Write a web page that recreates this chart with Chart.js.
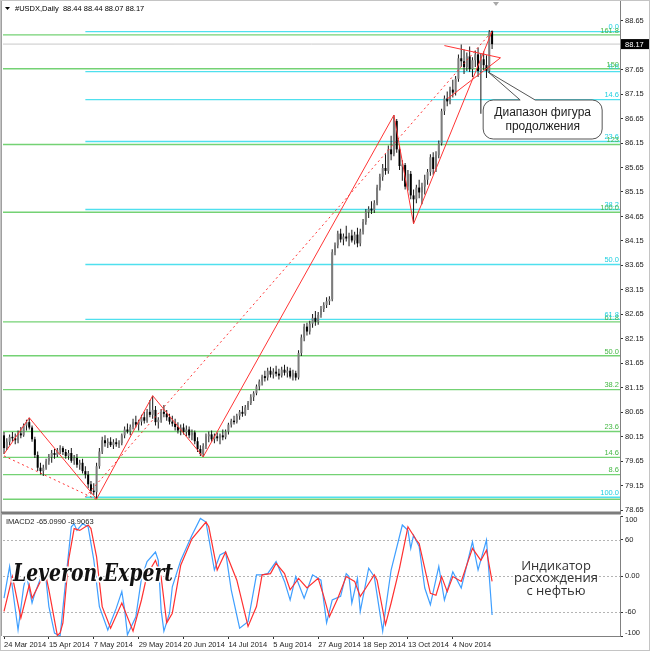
<!DOCTYPE html>
<html><head><meta charset="utf-8">
<script src="https://cdn.jsdelivr.net/npm/chart.js@4.4.1/dist/chart.umd.min.js"></script>
<style>
html,body{margin:0;padding:0;background:#fff;}
#wrap{position:relative;width:650px;height:651px;overflow:hidden;background:#fff;}
#c1{position:absolute;left:0;top:0;}
#c2{position:absolute;left:0;top:513px;}
#frame{position:absolute;left:0;top:0;width:650px;height:651px;box-sizing:border-box;border:1px solid #c4c4c4;pointer-events:none;}
</style></head><body>
<div id="wrap"><canvas id="c1" width="650" height="513"></canvas><canvas id="c2" width="650" height="138"></canvas><div id="frame"></div></div>
<script>
// ---------------- DATA ----------------
const symbolTitle = '#USDX,Daily';
const opens = [80.18,79.92,80.05,80.15,80.12,80.08,80.22,80.18,80.38,80.45,80.34,80.10,79.78,79.52,79.45,79.52,79.65,79.74,79.82,79.78,
79.88,79.92,79.84,79.76,79.82,79.66,79.72,79.58,79.62,79.45,79.38,79.18,79.05,79.02,79.55,79.85,80.08,80.02,80.05,79.98,
80.04,80.00,80.02,80.18,80.30,80.26,80.35,80.45,80.40,80.46,80.55,80.48,80.66,80.60,80.70,80.45,80.50,80.66,80.62,80.55,
80.46,80.42,80.35,80.28,80.34,80.25,80.30,80.18,80.24,80.06,79.90,79.80,79.96,80.16,80.20,80.10,80.16,80.12,80.18,80.14,
80.26,80.40,80.48,80.45,80.58,80.66,80.62,80.75,80.84,80.96,81.04,81.18,81.28,81.38,81.36,81.50,81.42,81.48,81.44,81.40,
81.52,81.46,81.50,81.38,81.45,81.36,81.86,82.18,82.40,82.30,82.46,82.58,82.50,82.64,82.76,82.84,82.92,82.96,83.92,84.06,
84.30,84.18,84.24,84.20,84.26,84.16,84.28,84.10,84.34,84.54,84.74,84.80,84.78,84.92,85.24,85.46,85.64,85.58,86.02,85.92,
86.60,86.02,85.68,85.70,85.26,85.52,85.08,85.00,85.24,85.14,85.26,85.40,85.56,85.86,85.62,85.90,86.14,86.80,87.06,87.00,
87.24,87.18,87.46,87.88,87.82,87.70,87.92,87.66,87.84,87.96,87.62,87.86,87.74,87.62,88.44];
const highs = [80.25,80.12,80.20,80.25,80.22,80.28,80.35,80.42,80.50,80.54,80.38,80.15,79.85,79.62,79.58,79.70,79.80,79.88,79.90,79.92,
79.98,79.96,79.90,79.88,79.92,79.78,79.80,79.68,79.70,79.55,79.45,79.25,79.20,79.62,79.92,80.15,80.18,80.12,80.14,80.10,
80.12,80.08,80.22,80.36,80.42,80.40,80.52,80.58,80.50,80.60,80.66,80.72,80.90,80.99,80.78,80.55,80.72,80.80,80.70,80.62,
80.58,80.52,80.45,80.40,80.42,80.38,80.36,80.30,80.28,80.14,79.98,80.02,80.22,80.26,80.28,80.22,80.24,80.22,80.30,80.30,
80.44,80.52,80.58,80.62,80.70,80.78,80.80,80.88,81.02,81.08,81.22,81.32,81.42,81.50,81.56,81.58,81.55,81.60,81.54,81.58,
81.62,81.58,81.56,81.52,81.50,81.92,82.24,82.46,82.48,82.52,82.66,82.72,82.70,82.82,82.90,83.00,83.02,83.98,84.12,84.36,
84.40,84.30,84.46,84.32,84.38,84.34,84.42,84.40,84.60,84.80,84.86,84.96,84.98,85.30,85.52,85.72,85.92,86.10,86.30,86.72,
86.64,86.10,85.80,85.74,85.60,85.58,85.20,85.30,85.40,85.34,85.50,85.62,85.92,85.96,85.98,86.20,86.85,87.12,87.20,87.30,
87.44,87.52,87.96,88.16,88.06,88.00,88.12,87.90,88.04,88.10,87.98,88.02,87.94,88.46,88.44];
const lows = [79.80,79.88,79.98,80.05,80.00,80.02,80.12,80.15,80.28,80.30,80.05,79.72,79.45,79.38,79.35,79.48,79.58,79.62,79.70,79.74,
79.80,79.78,79.70,79.68,79.62,79.58,79.52,79.48,79.40,79.30,79.10,78.98,78.96,78.88,79.50,79.80,79.95,79.92,79.94,79.90,
79.95,79.92,79.98,80.12,80.22,80.18,80.30,80.34,80.28,80.38,80.42,80.44,80.55,80.52,80.38,80.32,80.44,80.55,80.48,80.40,
80.36,80.28,80.22,80.18,80.20,80.16,80.12,80.08,80.00,79.84,79.76,79.74,79.90,80.04,80.05,80.02,80.06,80.00,80.08,80.10,
80.20,80.34,80.40,80.42,80.50,80.56,80.58,80.70,80.80,80.88,81.00,81.10,81.20,81.28,81.30,81.36,81.34,81.38,81.32,81.36,
81.40,81.36,81.34,81.30,81.30,81.32,81.80,82.10,82.22,82.24,82.38,82.42,82.44,82.58,82.70,82.78,82.84,82.92,83.86,84.00,
84.12,84.06,84.14,84.04,84.12,84.08,84.02,84.04,84.28,84.48,84.62,84.70,84.72,84.88,85.18,85.38,85.50,85.52,85.80,85.88,
85.95,85.60,85.38,85.20,85.18,85.00,84.50,84.92,85.02,84.90,85.10,85.30,85.48,85.50,85.56,85.84,86.10,86.72,86.90,86.94,
87.08,87.12,87.40,87.70,87.56,87.62,87.60,87.50,87.70,87.50,86.75,87.64,87.48,87.58,88.07];
const closes = [79.92,80.05,80.15,80.12,80.08,80.22,80.18,80.38,80.45,80.34,80.10,79.78,79.52,79.45,79.52,79.65,79.74,79.82,79.78,79.88,
79.92,79.84,79.76,79.82,79.66,79.72,79.58,79.62,79.45,79.38,79.18,79.05,79.02,79.55,79.85,80.08,80.02,80.05,79.98,80.04,
80.00,80.02,80.18,80.30,80.26,80.35,80.45,80.40,80.46,80.55,80.48,80.66,80.60,80.70,80.45,80.50,80.66,80.62,80.55,80.46,
80.42,80.35,80.28,80.34,80.25,80.30,80.18,80.24,80.06,79.90,79.80,79.96,80.16,80.20,80.10,80.16,80.12,80.18,80.14,80.26,
80.40,80.48,80.45,80.58,80.66,80.62,80.75,80.84,80.96,81.04,81.18,81.28,81.38,81.36,81.50,81.42,81.48,81.44,81.40,81.52,
81.46,81.50,81.38,81.45,81.36,81.86,82.18,82.40,82.30,82.46,82.58,82.50,82.64,82.76,82.84,82.92,82.96,83.92,84.06,84.30,
84.18,84.24,84.20,84.26,84.16,84.28,84.10,84.34,84.54,84.74,84.80,84.78,84.92,85.24,85.46,85.64,85.58,86.02,85.92,86.60,
86.02,85.68,85.70,85.26,85.52,85.08,85.00,85.24,85.14,85.26,85.40,85.56,85.86,85.62,85.90,86.14,86.80,87.06,87.00,87.24,
87.18,87.46,87.88,87.82,87.70,87.92,87.66,87.84,87.96,87.62,87.86,87.74,87.62,88.42,88.17];

const priceTicks = [88.65,88.15,87.65,87.15,86.65,86.15,85.65,85.15,84.65,84.15,83.65,83.15,82.65,82.15,81.65,81.15,80.65,80.15,79.65,79.15,78.65];

// Fibonacci objects
const fibLevels    = [0, 8.6, 14.6, 23.6, 38.2, 50, 61.8, 100, 123.6, 150, 161.8];
const fibLevelText = ['0.0','8.6','14.6','23.6','38.2','50.0','61.8','100.0','123','150','161.8'];
const cyanFibPrices  = [88.425, 78.916];   // 0% , 100%
const cyanFibStartBar = 29;
const greenFibPrices = [78.875, 84.736];   // 0% , 100%

// red zigzag and trend lines (bar index, price)
const zigzagBars   = [0, 9, 33, 53, 71, 139, 146, 174];
const zigzagPrices = [79.80, 80.54, 78.88, 80.99, 79.74, 86.72, 84.50, 88.43];
const dash1Bars = [0, 33];     const dash1Prices = [79.76, 78.87];
const dash2Bars = [29, 174];   const dash2Prices = [78.92, 88.43];
const pennantBars = [157, 177, 158]; const pennantPrices = [88.14, 87.89, 87.05];

// callout
const calloutBar = 172.6, calloutPrice = 87.60;
const calloutLines = ['Диапазон фигура', 'продолжения'];

// indicator
const indName = 'IMACD2';
const blueIdx  = [0,2,5,7,8,10,11,13,15,16,18,20,22,24,25,26,28,30,32,34,37,40,42,43,44,47,49,51,54,55,56,57,59,60,63,67,70,72,75,77,79,81,84,87,90,92,94,97,100,102,104,107,110,113,115,117,120,122,123,124,126,127,130,132,135,136,138,142,144,145,146,148,150,152,155,157,160,163,167,169,172,173,174];
const blueVals = [-37,16,-90,-18,2,-45,-29,-4,-7,-51,-95,-100,-7,82,87,76,87,82,27,-51,-90,-54,-26,-56,-98,-68,-4,24,40,26,-56,-92,-62,-18,26,68,96,90,10,35,40,-23,-87,-76,2,2,4,24,-9,-40,-1,-37,2,-7,-78,-40,-34,4,-1,-45,-4,-59,13,-1,-92,-56,10,85,76,46,68,49,-20,-48,16,-40,7,-20,57,10,60,-1,-65.099];
const redIdx  = [0,3,6,9,10,13,15,16,19,20,21,23,25,27,30,31,33,35,38,42,46,49,51,54,56,58,60,63,67,72,73,76,79,83,87,90,92,95,97,100,102,105,108,112,114,116,119,122,125,127,129,132,133,136,138,141,144,147,148,152,154,156,158,160,163,167,170,172,174];
const redVals = [-59,-1,-70,-15,-37,-9,-1,-23,-99,-95,-78,26,79,76,85,79,32,-51,-87,-45,-92,-40,2,26,-1,-78,-62,18,62,90,82,10,40,-7,-84,-51,2,4,21,4,-23,-4,-20,-4,-34,-68,-37,-1,-9,-34,-20,2,-7,-81,-45,13,82,60,54,-29,-32,-1,-26,-1,-9,46,26,43,-8.9063];
const indTicks = [100, 60, 0, -60, -100];
const indTickText = ['100', '60', '0.00', '-60', '-100'];
const indGrid = [60, 0, -60];
const indNote = ['Индикатор', 'расхождения', 'с нефтью'];
const watermark = 'Leveron.Expert';

const dateTickIdx  = [0,16,32,48,64,80,96,112,128,144,160];
const dateTickText = ['24 Mar 2014','15 Apr 2014','7 May 2014','29 May 2014','20 Jun 2014','14 Jul 2014','5 Aug 2014','27 Aug 2014','18 Sep 2014','13 Oct 2014','4 Nov 2014'];

// ---------------- CHART ----------------
const FONT = '"Liberation Sans", Arial, sans-serif';
Chart.defaults.font.family = FONT;
Chart.defaults.font.size = 7.5;
Chart.defaults.color = '#222';

const X_MIN = -0.36, X_MAX = 219.6;
const N = closes.length;
const barIdx = closes.map((c, i) => i);
const CYAN = '#4fe0ee', GREEN = '#74d274', RED = '#ff3434';

const fibPrice = (pr, l) => pr[0] + (pr[1] - pr[0]) * l / 100;
const lineDs = (pts, color, width, dash, order) => ({
  type: 'line', data: pts, borderColor: color, borderWidth: width, borderDash: dash || [],
  pointRadius: 0, fill: false, tension: 0, order: order
});
const noPad = s => { s.paddingTop = 0; s.paddingBottom = 0; s.paddingLeft = 0; s.paddingRight = 0; };

const datasets = [];
datasets.push(lineDs([{x: X_MIN, y: closes[N-1]}, {x: X_MAX, y: closes[N-1]}], '#c8c8c8', 1, null, 12));
fibLevels.forEach(l => {
  const pg = fibPrice(greenFibPrices, l);
  datasets.push(lineDs([{x: X_MIN, y: pg}, {x: X_MAX, y: pg}], GREEN, 1.4, null, 11));
  const pc = fibPrice(cyanFibPrices, l);
  datasets.push(lineDs([{x: cyanFibStartBar, y: pc}, {x: X_MAX, y: pc}], CYAN, 1.4, null, 10));
});
datasets.push({
  type: 'bar', data: barIdx.map(i => ({x: i, y: [lows[i], highs[i]]})),
  backgroundColor: '#161616', barThickness: 1, grouped: false, borderWidth: 0, inflateAmount: 0, order: 6
});
datasets.push({
  type: 'bar', data: barIdx.map(i => {
    const a = Math.min(opens[i], closes[i]), b = Math.max(opens[i], closes[i]);
    return {x: i, y: (b - a < 0.02) ? [a - 0.01, b + 0.01] : [a, b]};
  }),
  backgroundColor: barIdx.map(i => closes[i] >= opens[i] ? '#7c7c7c' : '#000000'),
  barThickness: 2, grouped: false, borderWidth: 0, inflateAmount: 0, order: 5
});
const pts = (bs, ps) => bs.map((b, k) => ({x: b, y: ps[k]}));
datasets.push(lineDs(pts(dash1Bars, dash1Prices), RED, 1, [2, 3], 2));
datasets.push(lineDs(pts(dash2Bars, dash2Prices), RED, 1, [2, 3], 2));
datasets.push(lineDs(pts(zigzagBars, zigzagPrices), RED, 1, null, 1));
datasets.push(lineDs(pts(pennantBars, pennantPrices), RED, 1, null, 1));

const overlayA = {
  id: 'overlayA',
  afterDatasetsDraw(chart) {
    const {ctx, chartArea: a, scales: {x, y}} = chart;
    ctx.save();
    ctx.font = '7.5px ' + FONT; ctx.textAlign = 'right'; ctx.textBaseline = 'bottom';
    fibLevels.forEach((l, k) => {
      const pg = y.getPixelForValue(fibPrice(greenFibPrices, l));
      if (l !== 0 && pg > a.top + 6 && pg < a.bottom) { ctx.fillStyle = '#45b845'; ctx.fillText(fibLevelText[k], a.right - 1, pg - 0.5); }
      const pc = y.getPixelForValue(fibPrice(cyanFibPrices, l));
      if (pc > a.top + 6 && pc < a.bottom) { ctx.fillStyle = '#1fcfe0'; ctx.fillText(fibLevelText[k], a.right - 1, pc - 0.5); }
    });
    const tx = x.getPixelForValue(calloutBar), ty = y.getPixelForValue(calloutPrice);
    const bx = tx - 5, by = ty + 28, bw = 119, bh = 39, r = 10;
    const p1 = tx + 32, p2 = tx + 47;
    ctx.beginPath();
    ctx.moveTo(bx + r, by); ctx.lineTo(p1, by); ctx.lineTo(tx, ty); ctx.lineTo(p2, by);
    ctx.lineTo(bx + bw - r, by); ctx.arcTo(bx + bw, by, bx + bw, by + r, r);
    ctx.lineTo(bx + bw, by + bh - r); ctx.arcTo(bx + bw, by + bh, bx + bw - r, by + bh, r);
    ctx.lineTo(bx + r, by + bh); ctx.arcTo(bx, by + bh, bx, by + bh - r, r);
    ctx.lineTo(bx, by + r); ctx.arcTo(bx, by, bx + r, by, r); ctx.closePath();
    ctx.fillStyle = '#fff'; ctx.fill(); ctx.strokeStyle = '#555'; ctx.lineWidth = 1; ctx.stroke();
    ctx.fillStyle = '#222'; ctx.font = '12px ' + FONT; ctx.textAlign = 'center'; ctx.textBaseline = 'middle';
    ctx.fillText(calloutLines[0], bx + bw / 2, by + 13);
    ctx.fillText(calloutLines[1], bx + bw / 2, by + 27);
    ctx.restore();
  },
  afterDraw(chart) {
    const {ctx, chartArea: a, scales: {y}} = chart;
    ctx.save();
    ctx.fillStyle = '#000';
    ctx.beginPath(); ctx.moveTo(5, 7); ctx.lineTo(10, 7); ctx.lineTo(7.5, 10); ctx.closePath(); ctx.fill();
    ctx.font = '7.5px ' + FONT; ctx.textAlign = 'left'; ctx.textBaseline = 'middle';
    const last = N - 1;
    ctx.fillText(symbolTitle + '  ' + opens[last].toFixed(2) + ' ' + highs[last].toFixed(2) + ' ' + lows[last].toFixed(2) + ' ' + closes[last].toFixed(2), 15, 8.5);
    ctx.fillStyle = '#a8a8a8';
    ctx.beginPath(); ctx.moveTo(493, 2); ctx.lineTo(499, 2); ctx.lineTo(496, 6); ctx.closePath(); ctx.fill();
    const py = y.getPixelForValue(closes[last]);
    ctx.fillStyle = '#000'; ctx.fillRect(a.right + 1, py - 5, 28, 10);
    ctx.fillStyle = '#fff'; ctx.textAlign = 'left'; ctx.fillText(closes[last].toFixed(2), a.right + 5, py + 0.5);
    ctx.fillStyle = '#a0a0a0'; ctx.fillRect(0, 0, 2, 513);
    ctx.fillStyle = '#7c7c7c'; ctx.fillRect(0, 511.5, a.right + 1, 1.5);
    ctx.restore();
  }
};

new Chart(document.getElementById('c1'), {
  type: 'bar',
  data: {datasets},
  options: {
    responsive: false, animation: false, events: [],
    layout: {padding: {left: 3, top: 1, right: 0, bottom: 1}},
    plugins: {legend: {display: false}, tooltip: {enabled: false}},
    scales: {
      x: {type: 'linear', min: X_MIN, max: X_MAX, offset: false, display: false},
      y: {
        position: 'right', min: 78.615, max: 89.05,
        afterBuildTicks: s => { s.ticks = priceTicks.map(v => ({value: v})); },
        afterFit: s => { s.width = 30; noPad(s); },
        ticks: {autoSkip: false, padding: 2, color: '#222', callback: v => Number(v).toFixed(2)},
        grid: {drawOnChartArea: false, drawTicks: true, tickLength: 3, color: '#333'},
        border: {display: true, color: '#808080'}
      }
    }
  },
  plugins: [overlayA]
});

const overlayB = {
  id: 'overlayB',
  beforeDatasetsDraw(chart) {
    const {ctx, chartArea: a, scales: {y}} = chart;
    ctx.save();
    ctx.strokeStyle = '#b4b4b4'; ctx.lineWidth = 1; ctx.setLineDash([2, 2]);
    indGrid.forEach(v => {
      const py = Math.round(y.getPixelForValue(v)) + 0.5;
      ctx.beginPath(); ctx.moveTo(a.left, py); ctx.lineTo(a.right, py); ctx.stroke();
    });
    ctx.restore();
  },
  afterDatasetsDraw(chart) {
    const {ctx} = chart;
    ctx.save();
    ctx.font = 'italic bold 24px "DejaVu Serif"';
    const w = ctx.measureText(watermark).width;
    ctx.translate(13, 62); ctx.scale(160 / w, 1);
    ctx.textBaseline = 'middle'; ctx.textAlign = 'left';
    ctx.lineWidth = 3; ctx.strokeStyle = '#fff'; ctx.strokeText(watermark, 0, 0);
    ctx.fillStyle = '#111'; ctx.fillText(watermark, 0, 0);
    ctx.restore();
    ctx.save();
    ctx.fillStyle = '#333'; ctx.font = '13px "Open Sans", ' + FONT; ctx.textAlign = 'center'; ctx.textBaseline = 'middle';
    indNote.forEach((t, k) => ctx.fillText(t, 556, 53 + k * 12.7));
    ctx.fillStyle = '#222'; ctx.font = '7.5px ' + FONT; ctx.textAlign = 'left';
    ctx.fillText(indName + ' ' + blueVals[blueVals.length - 1].toFixed(4) + ' ' + redVals[redVals.length - 1].toFixed(4), 6, 8.5);
    ctx.restore();
  },
  afterDraw(chart) {
    const {ctx, chartArea: a} = chart;
    ctx.save();
    ctx.fillStyle = '#7c7c7c'; ctx.fillRect(0, 0, a.right + 1, 1.5);
    ctx.fillStyle = '#a0a0a0'; ctx.fillRect(0, 0, 2, a.bottom);
    ctx.fillStyle = '#222'; ctx.font = '7.5px ' + FONT; ctx.textAlign = 'left'; ctx.textBaseline = 'middle';
    ctx.fillText(indTickText[0], a.right + 5, a.top + 4);
    ctx.fillText(indTickText[4], a.right + 5, a.bottom - 3.5);
    ctx.restore();
  }
};

new Chart(document.getElementById('c2'), {
  type: 'line',
  data: {datasets: [
    {data: pts(redIdx, redVals), borderColor: '#ff3030', borderWidth: 1.2, pointRadius: 0, tension: 0, order: 1},
    {data: pts(blueIdx, blueVals), borderColor: '#3f9fff', borderWidth: 1.2, pointRadius: 0, tension: 0, order: 2}
  ]},
  options: {
    responsive: false, animation: false, events: [],
    layout: {padding: {left: 3, top: 3, right: 0, bottom: 0}},
    plugins: {legend: {display: false}, tooltip: {enabled: false}},
    scales: {
      x: {
        type: 'linear', min: X_MIN, max: X_MAX, offset: false,
        afterBuildTicks: s => { s.ticks = dateTickIdx.map(v => ({value: v})); },
        afterFit: s => { s.height = 15; noPad(s); },
        ticks: {align: 'start', maxRotation: 0, autoSkip: false, padding: 1, color: '#222',
                callback: v => dateTickText[dateTickIdx.indexOf(v)]},
        grid: {drawOnChartArea: false, drawTicks: true, tickLength: 3, color: '#333'},
        border: {display: true, color: '#808080'}
      },
      y: {
        position: 'right', min: -100, max: 100,
        afterBuildTicks: s => { s.ticks = indTicks.map(v => ({value: v})); },
        afterFit: s => { s.width = 30; noPad(s); },
        ticks: {autoSkip: false, padding: 2, color: '#222',
                callback: v => (v === 100 || v === -100) ? '' : indTickText[indTicks.indexOf(v)]},
        grid: {drawOnChartArea: false, drawTicks: true, tickLength: 3, color: '#333'},
        border: {display: true, color: '#808080'}
      }
    }
  },
  plugins: [overlayB]
});
</script>
</body></html>
